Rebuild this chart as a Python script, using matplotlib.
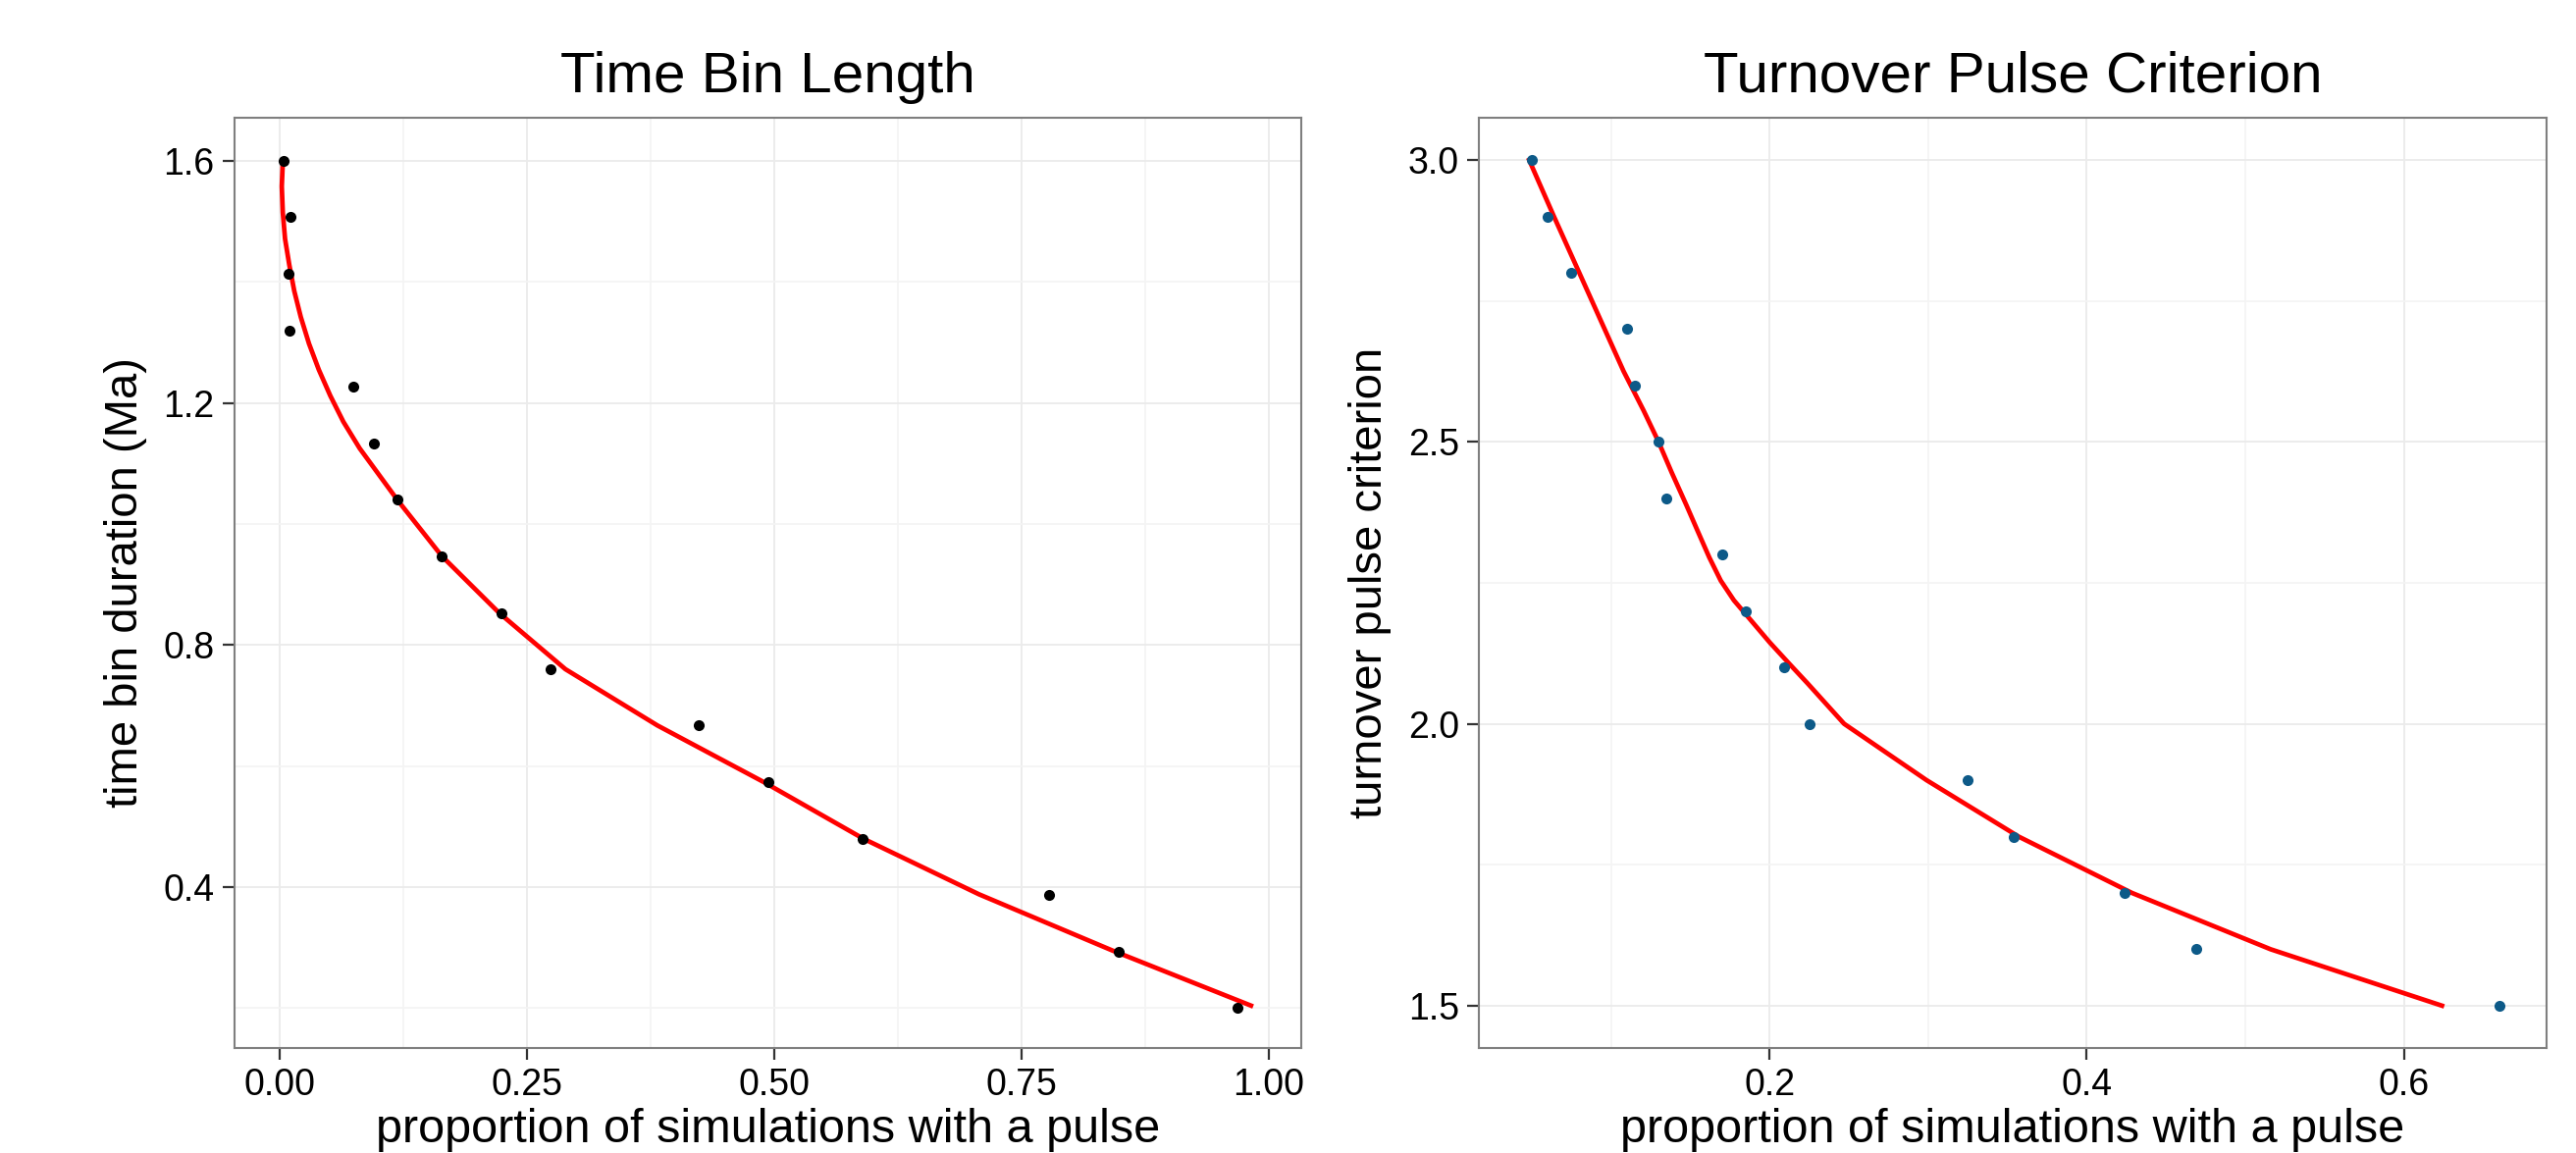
import matplotlib
matplotlib.use("Agg")
import matplotlib.pyplot as plt

plt.rcParams['font.family'] = ['Liberation Sans', 'DejaVu Sans']

# --- data ---
# left panel: time bin length
bin_prop = [0.004, 0.011, 0.009, 0.010, 0.075, 0.095, 0.119, 0.164,
            0.224, 0.274, 0.424, 0.494, 0.589, 0.778, 0.848, 0.968]
bin_dur = [1.600, 1.507, 1.413, 1.320, 1.227, 1.133, 1.040, 0.947,
           0.853, 0.760, 0.667, 0.573, 0.480, 0.387, 0.293, 0.200]

# fitted curve (traced)
bin_fit_x = [0.0033, 0.0023, 0.0033, 0.0056, 0.0099, 0.0149, 0.0215, 0.0298,
             0.0397, 0.0513, 0.0645, 0.081, 0.119, 0.164, 0.222, 0.289,
             0.382, 0.490, 0.590, 0.707, 0.842, 0.982]
bin_fit_y = [1.598, 1.558, 1.515, 1.471, 1.428, 1.385, 1.342, 1.298,
             1.255, 1.212, 1.169, 1.125, 1.040, 0.947, 0.853, 0.760,
             0.667, 0.573, 0.480, 0.388, 0.295, 0.204]

# right panel: turnover pulse criterion
crit_prop = [0.050, 0.060, 0.075, 0.110, 0.115, 0.130, 0.135, 0.170,
             0.185, 0.209, 0.225, 0.325, 0.354, 0.424, 0.469, 0.660]
crit_val = [3.0, 2.9, 2.8, 2.7, 2.6, 2.5, 2.4, 2.3,
            2.2, 2.1, 2.0, 1.9, 1.8, 1.7, 1.6, 1.5]

crit_fit_x = [0.0484, 0.064, 0.080, 0.096, 0.108, 0.1205, 0.130, 0.1383,
              0.1476, 0.1548, 0.162, 0.1692, 0.1775, 0.1878, 0.2002, 0.2126,
              0.224, 0.247, 0.299, 0.357, 0.4285, 0.516, 0.624]
crit_fit_y = [3.0, 2.9, 2.8, 2.7, 2.625, 2.556, 2.5, 2.4456,
              2.3875, 2.341, 2.295, 2.254, 2.219, 2.185, 2.144, 2.106,
              2.0716, 2.0, 1.9, 1.8, 1.7, 1.6, 1.5]

left_xticks = [0.0, 0.25, 0.5, 0.75, 1.0]
left_xlabels = ['0.00', '0.25', '0.50', '0.75', '1.00']
left_yticks = [0.4, 0.8, 1.2, 1.6]
right_xticks = [0.2, 0.4, 0.6]
right_yticks = [1.5, 2.0, 2.5, 3.0]

POINT_COLOR = '#0d5a88'
LINE_COLOR = '#ff0000'


def style_axes(ax):
    for s in ax.spines.values():
        s.set_color('#7f7f7f')
        s.set_linewidth(1.5)
    ax.grid(which='major', color='#ebebeb', linewidth=1.3, zorder=0)
    ax.grid(which='minor', color='#f4f4f4', linewidth=1.2, zorder=0)
    ax.set_axisbelow(True)
    ax.tick_params(which='major', length=8.5, width=1.6, color='#333333',
                   labelsize=27, pad=6, labelcolor='black')
    ax.tick_params(which='minor', length=0)
    # the reference crops the x label at the bottom edge; keep it just inside
    ax.xaxis.label.set_va('baseline')
    ax.xaxis.set_label_coords(0.5, -0.101)
    ax.yaxis.label.set_va('center')
    ax.yaxis.set_label_coords(-0.102, 0.5)


fig = plt.figure(figsize=(26.25, 11.75), dpi=100)
ax1 = fig.add_axes([0.0910, 0.0911, 0.4141, 0.8068])
ax2 = fig.add_axes([0.5741, 0.0911, 0.4145, 0.8068])

# --- left panel ---
ax1.plot(bin_fit_x, bin_fit_y, color=LINE_COLOR, linewidth=3.4, zorder=2,
         solid_joinstyle='round')
ax1.scatter(bin_prop, bin_dur, s=64, color='black', zorder=3, linewidths=0)
ax1.set_xlim(-0.0456, 1.0327)
ax1.set_ylim(0.134, 1.6714)
ax1.set_xticks(left_xticks)
ax1.set_xticklabels(left_xlabels)
ax1.set_xticks([0.125, 0.375, 0.625, 0.875], minor=True)
ax1.set_yticks(left_yticks)
ax1.set_yticks([0.2, 0.6, 1.0, 1.4], minor=True)
ax1.set_title('Time Bin Length', fontsize=42, pad=19)
ax1.set_xlabel('proportion of simulations with a pulse', fontsize=35)
ax1.set_ylabel('time bin duration (Ma)', fontsize=34)
style_axes(ax1)

# --- right panel ---
ax2.plot(crit_fit_x, crit_fit_y, color=LINE_COLOR, linewidth=3.4, zorder=2,
         solid_joinstyle='round')
ax2.scatter(crit_prop, crit_val, s=64, color=POINT_COLOR, zorder=3, linewidths=0)
ax2.set_xlim(0.0167, 0.690)
ax2.set_ylim(1.425, 3.075)
ax2.set_xticks(right_xticks)
ax2.set_xticks([0.1, 0.3, 0.5], minor=True)
ax2.set_yticks(right_yticks)
ax2.set_yticks([1.75, 2.25, 2.75], minor=True)
ax2.set_title('Turnover Pulse Criterion', fontsize=42, pad=19)
ax2.set_xlabel('proportion of simulations with a pulse', fontsize=35)
ax2.set_ylabel('turnover pulse criterion', fontsize=34)
style_axes(ax2)

fig.savefig('out.png', dpi=100)
